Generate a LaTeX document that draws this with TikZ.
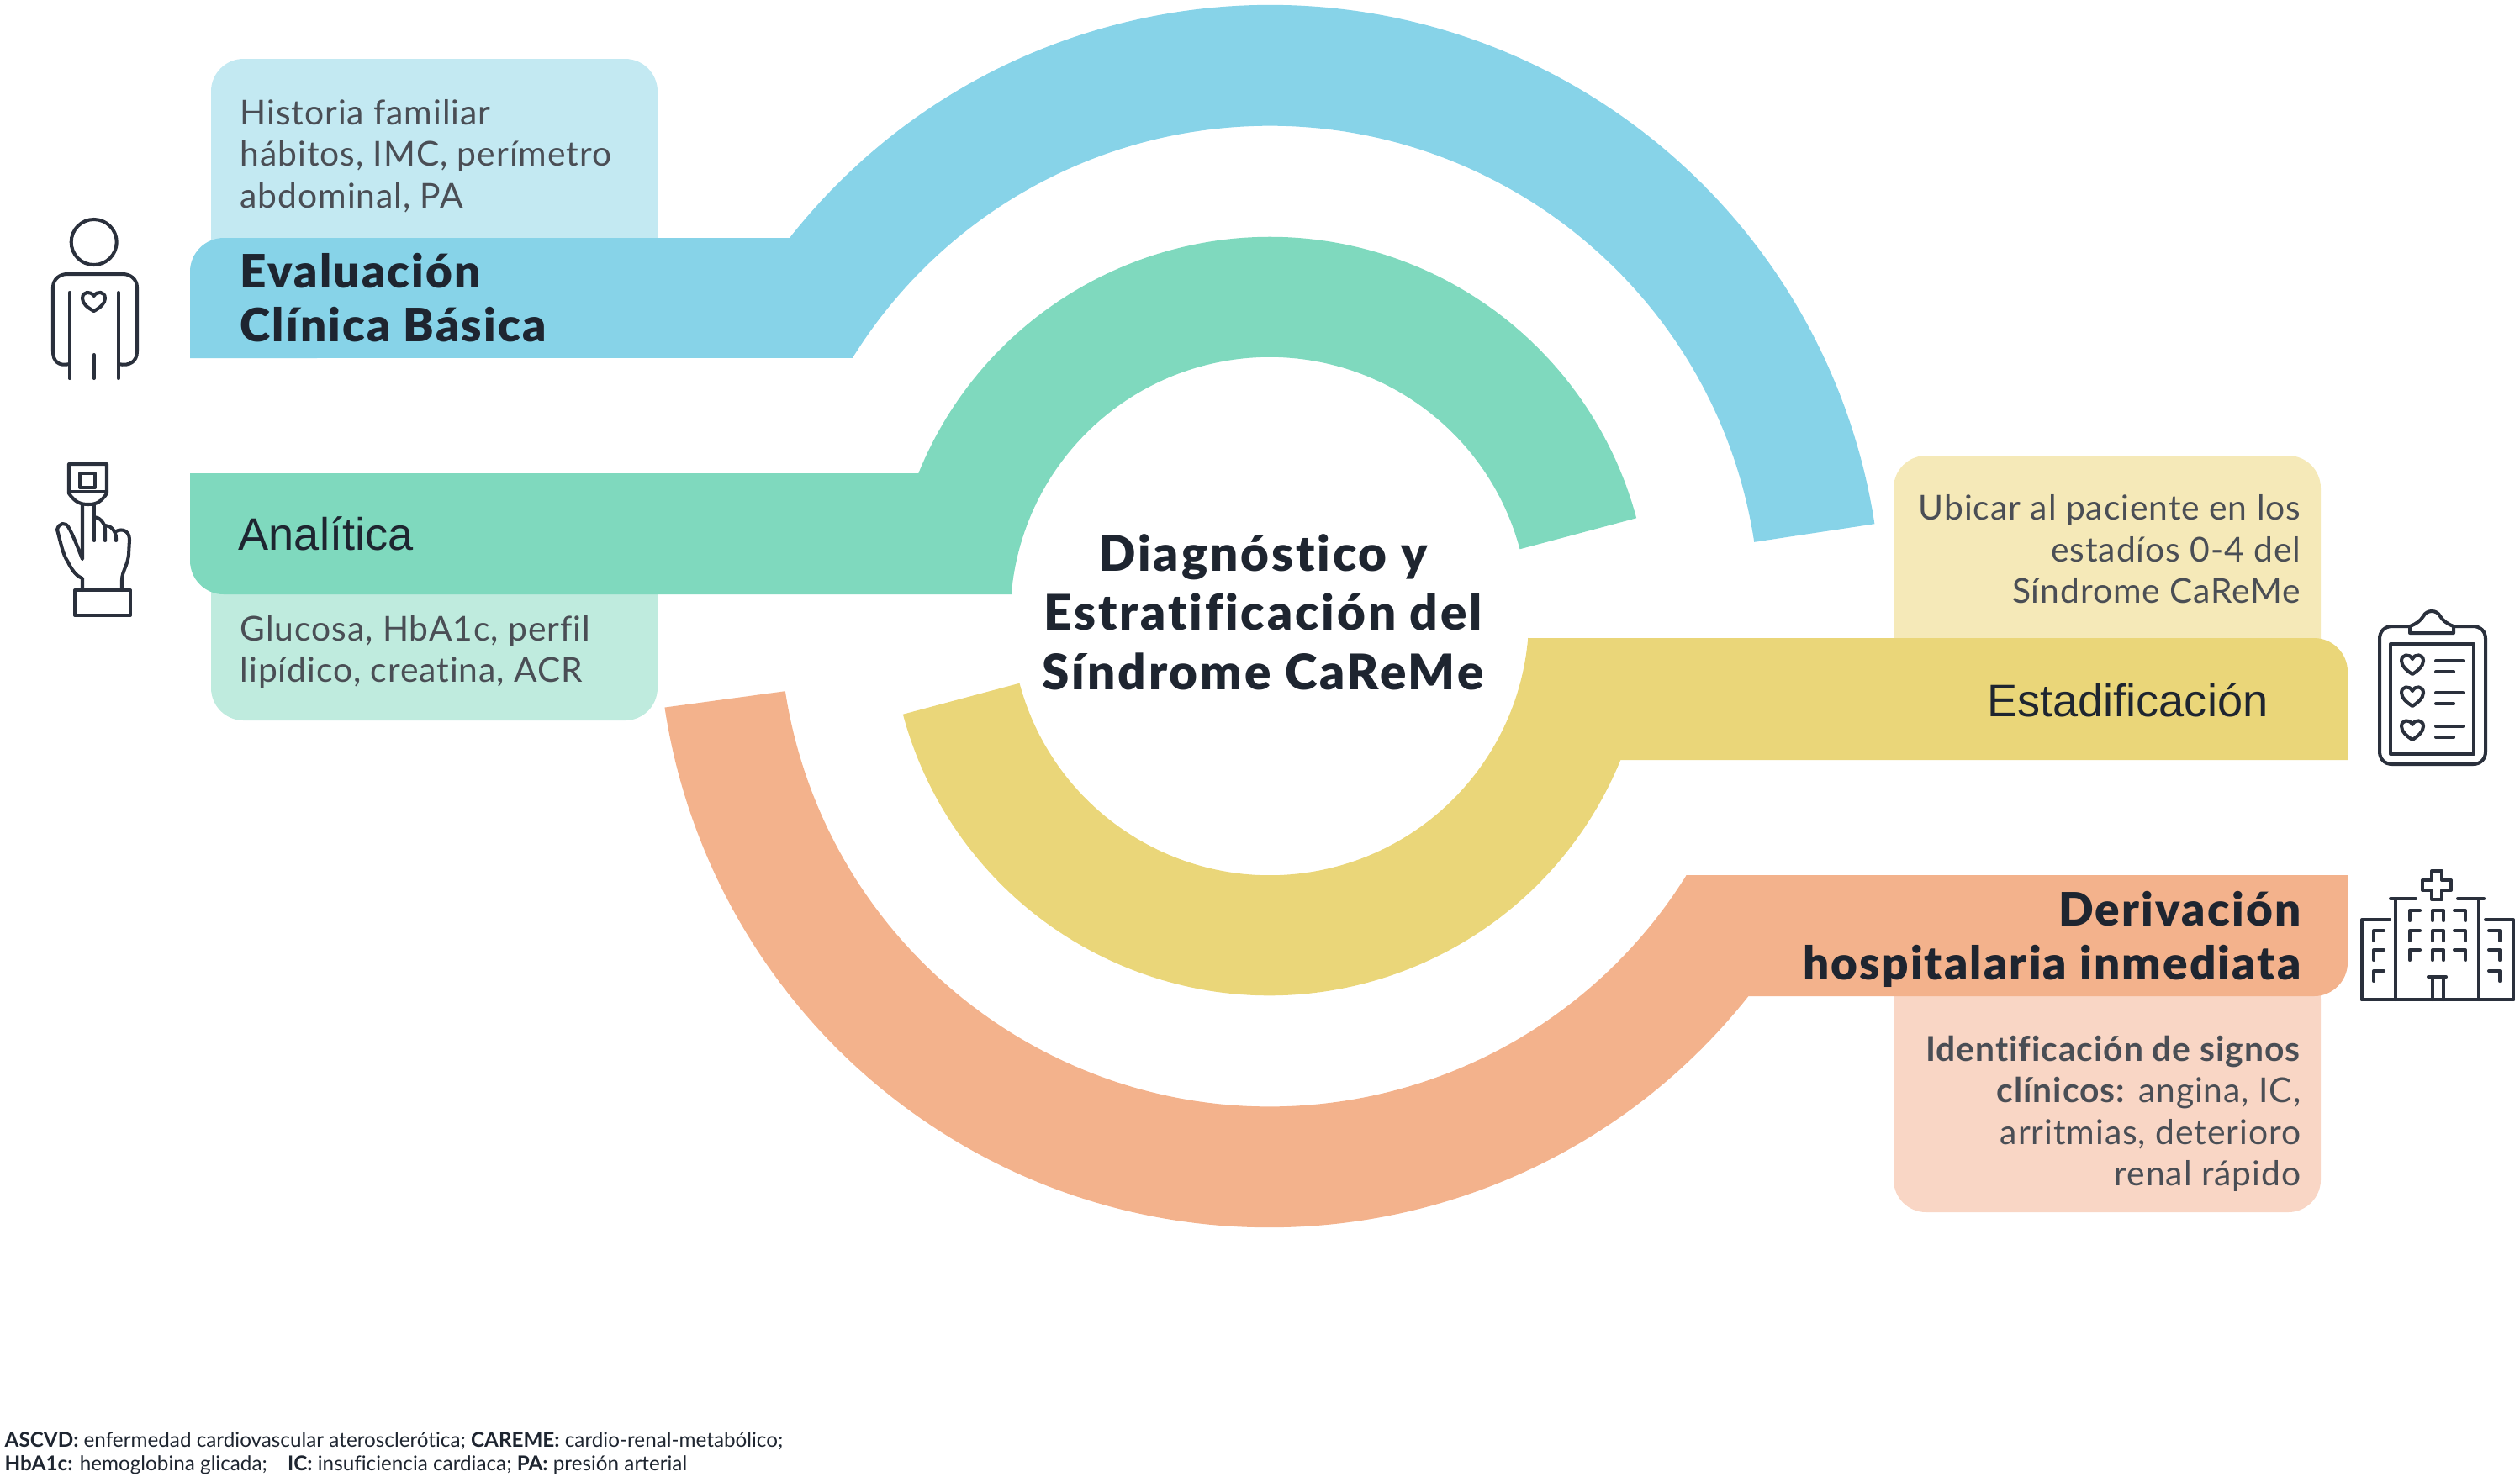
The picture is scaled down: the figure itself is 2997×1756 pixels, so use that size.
\documentclass[tikz,border=0pt]{standalone}
\usepackage{fontspec}
\setmainfont{Lato}[LetterSpace=2.3,Ligatures=NoCommon]
\newfontfamily\arialf{Liberation Sans}
\newfontfamily\headf{Lato Black}[LetterSpace=4,Ligatures=NoCommon]
\newfontfamily\titlef{Lato Black}[LetterSpace=5,Ligatures=NoCommon]
\newfontfamily\footf{Lato}[Ligatures=NoCommon]
\definecolor{cblue}{HTML}{87D3E8}
\definecolor{cgreen}{HTML}{7FD9BE}
\definecolor{cyellow}{HTML}{EAD679}
\definecolor{corange}{HTML}{F3B28C}
\definecolor{lblue}{HTML}{C3E9F2}
\definecolor{lgreen}{HTML}{BFEBDE}
\definecolor{lyellow}{HTML}{F5E9B8}
\definecolor{lorange}{HTML}{F9D6C5}
\definecolor{inkd}{HTML}{1E2530}
\definecolor{inkm}{HTML}{4A4E55}
\definecolor{iconc}{HTML}{2A303C}
\tikzset{
 detail/.style={inner sep=0pt,text=inkm,font=\fontsize{11.6}{13.94}\selectfont},
 head/.style={inner sep=0pt,text=inkd,font=\headf\fontsize{15.6}{18.2}\selectfont},
 plainhead/.style={inner sep=0pt,text=inkd,font=\arialf\fontsize{15.4}{18}\selectfont},
 title/.style={inner sep=0pt,text=inkd,font=\titlef\fontsize{16.6}{20}\selectfont},
 foot/.style={inner sep=0pt,text=inkd,font=\footf\fontsize{6.9}{7.7}\selectfont},
 icon/.style={draw=iconc,line width=1.15pt,line cap=round,line join=round,fill=none}
}
\begin{document}
\begin{tikzpicture}[x=0.01cm,y=0.01cm,yscale=-1]
\useasboundingbox (0,0) rectangle (2997,1756);
% ring angles derived from the straight band edges
\pgfmathsetmacro{\bo}{180+asin(450/727)}
\pgfmathsetmacro{\bi}{180+asin(307/583)}
\pgfmathsetmacro{\go}{180+asin(170/451)}
\pgfmathsetmacro{\gi}{180+asin(26/308)}
\pgfmathsetmacro{\yo}{asin(171/451)}
\pgfmathsetmacro{\yi}{asin(-(-26)/308)}
\pgfmathsetmacro{\oo}{asin(452/727)}
\pgfmathsetmacro{\oi}{asin(308/583)}
% light boxes
\fill[lblue,rounded corners=11pt] (251,70) rectangle (782,340);
\fill[lgreen,rounded corners=11pt] (251,650) rectangle (782,857);
\fill[lyellow,rounded corners=11pt] (2252,542) rectangle (2760,800);
\fill[lorange,rounded corners=11pt] (2252,1150) rectangle (2760,1442);
% bands and rings
\fill[cblue] (226,426) -- (226,323) .. controls (226,301) and (244,283) .. (266,283)
  -- ({1510+727*cos(\bo)},283)
  arc[start angle=\bo,end angle=351.3,radius=7.27cm]
  -- ({1510+583*cos(351.3)},{733+583*sin(351.3)})
  arc[start angle=351.3,end angle=\bi,radius=5.83cm] -- cycle;
\fill[cgreen] (226,563) -- ({1510+451*cos(\go)},563)
  arc[start angle=\go,end angle=345,radius=4.51cm]
  -- ({1510+308*cos(345)},{733+308*sin(345)})
  arc[start angle=345,end angle=\gi,radius=3.08cm]
  -- (266,707) .. controls (244,707) and (226,689) .. (226,667) -- cycle;
\fill[cyellow] ({1510+308*cos(\yi)},759) -- (2752,759) .. controls (2774,759) and (2792,777) .. (2792,799) -- (2792,904) -- ({1510+451*cos(\yo)},904)
  arc[start angle=\yo,end angle=165,radius=4.51cm]
  -- ({1510+308*cos(165)},{733+308*sin(165)})
  arc[start angle=165,end angle=\yi,radius=3.08cm] -- cycle;
\fill[corange] ({1510+583*cos(\oi)},1041) -- (2792,1041) -- (2792,1145) .. controls (2792,1167) and (2774,1185) .. (2752,1185) -- ({1510+727*cos(\oo)},1185)
  arc[start angle=\oo,end angle=171.4,radius=7.27cm]
  -- ({1510+583*cos(171.2)},{733+583*sin(171.2)})
  arc[start angle=171.2,end angle=\oi,radius=5.83cm] -- cycle;
% texts
\node[detail,anchor=base west,align=left] (d1) at (285,247) {Historia familiar\\hábitos, IMC, perímetro\\abdominal, PA};
\node[head,anchor=base west,align=left] (h1) at (285,406) {Evaluación\\Clínica Básica};
\node[plainhead,anchor=base west] (h2) at (283,654) {Analítica};
\node[detail,anchor=base west,align=left] (d2) at (285,811) {Glucosa, HbA1c, perfil\\lipídico, creatina, ACR};
\node[detail,anchor=base east,align=right] (d3) at (2737,717) {Ubicar al paciente en los\\estadíos 0-4 del\\Síndrome CaReMe};
\node[plainhead,anchor=base east] (h3) at (2698,852) {Estadificación};
\node[head,anchor=base east,align=right] (h4) at (2737,1165) {Derivación\\hospitalaria inmediata};
\node[detail,anchor=base east,align=right] (d4) at (2737,1410) {\textbf{Identificación de signos}\\\textbf{clínicos:} angina, IC,\\arritmias, deterioro\\renal rápido};
\node[title,anchor=base,align=center] (t) at (1502,820) {Diagnóstico y\\Estratificación del\\Síndrome CaReMe};
\node[foot,anchor=base west,align=left] (f) at (5,1749) {\textbf{ASCVD:} enfermedad cardiovascular aterosclerótica; \textbf{CAREME:} cardio-renal-metabólico;\\\textbf{HbA1c:} hemoglobina glicada;\quad\textbf{IC:} insuficiencia cardiaca; \textbf{PA:} presión arterial};
% person icon
\draw[icon] (111.7,288) circle[radius=0.27cm];
\draw[icon] (82.7,433) .. controls (70,436) and (63,430) .. (63,418) -- (63,342) .. controls (63,332) and (71,326) .. (80,326) -- (146,326) .. controls (155,326) and (163,332) .. (163,342) -- (163,418) .. controls (163,430) and (154,436) .. (141,433);
\draw[icon] (82.7,348) -- (82.7,450);
\draw[icon] (141,348) -- (141,450);
\draw[icon] (111.7,422) -- (111.7,450);
\draw[icon] (111.7,370) .. controls (104,366) and (98,361) .. (98,355) .. controls (98,346) and (108,346) .. (111.7,352) .. controls (115,346) and (125,346) .. (125,355) .. controls (125,361) and (119,366) .. (111.7,370) -- cycle;
% finger icon
\draw[icon] (82,552) -- (127,552) -- (127,587) .. controls (120,597) and (115,600) .. (105,600) .. controls (95,600) and (89,597) .. (82,587) -- cycle;
\draw[icon] (95,563) rectangle (113,580);
\draw[icon] (82,585) -- (127,585);
\draw[icon] (98,600) -- (98,665) .. controls (92,650) and (87,637) .. (82,628) .. controls (78,620) and (70,622) .. (68,630) .. controls (72,645) and (75,660) .. (80,667) .. controls (85,677) and (90,685) .. (98,688) -- (98,702);
\draw[icon] (112,600) -- (112,643);
\draw[icon] (112,615) .. controls (118,615) and (125,622) .. (125,630) -- (125,643);
\draw[icon] (125,625) .. controls (132,625) and (138,632) .. (138,640) -- (138,643);
\draw[icon] (138,632) .. controls (146,628) and (154,632) .. (154,642) -- (153,660) .. controls (152,672) and (145,680) .. (145,690) -- (145,702);
\draw[icon] (89,702) rectangle (155,732);
% clipboard icon
\draw[icon] (2866,745) -- (2845,745) .. controls (2836,745) and (2830,751) .. (2830,760) -- (2830,894) .. controls (2830,903) and (2836,909) .. (2845,909) -- (2941,909) .. controls (2950,909) and (2956,903) .. (2956,894) -- (2956,760) .. controls (2956,751) and (2950,745) .. (2941,745) -- (2918,745);
\draw[icon] (2866,753) -- (2918,753) -- (2918,745) .. controls (2910,742) and (2905,738) .. (2902,733) .. controls (2898,725) and (2886,725) .. (2882,733) .. controls (2879,738) and (2874,742) .. (2866,745) -- cycle;
\draw[icon] (2843,766) rectangle (2942,897);
\foreach \hy in {790,828,868}{
 \draw[icon,shift={(2869,\hy)}] (0,12) .. controls (-6,8) and (-13,3) .. (-13,-4) .. controls (-13,-12) and (-3,-13) .. (0,-6) .. controls (3,-13) and (13,-12) .. (13,-4) .. controls (13,3) and (6,8) .. (0,12) -- cycle;
 \draw[icon] (2897,\hy-4) -- (2929,\hy-4);
 \draw[icon] (2897,\hy+9) -- (2918,\hy+9);
}
% hospital icon
\draw[icon] (2809,1189) -- (2989,1189);
\draw[icon] (2842,1094) -- (2809,1094) -- (2809,1189);
\draw[icon] (2956,1094) -- (2989,1094) -- (2989,1189);
\draw[icon] (2849,1069) -- (2849,1189);
\draw[icon] (2948,1069) -- (2948,1189);
\draw[icon] (2843,1069) -- (2873,1069);
\draw[icon] (2923,1069) -- (2954,1069);
\draw[icon] (2892,1036) -- (2904,1036) -- (2904,1047) -- (2915,1047) -- (2915,1059) -- (2904,1059) -- (2904,1070) -- (2892,1070) -- (2892,1059) -- (2881,1059) -- (2881,1047) -- (2892,1047) -- cycle;
\foreach \wy in {1083,1107,1130}{
 \draw[icon] (2866,\wy+12) -- (2866,\wy) -- (2878,\wy);
 \draw[icon] (2893,\wy+12) -- (2893,\wy) -- (2906,\wy) -- (2906,\wy+12);
 \draw[icon] (2919,\wy) -- (2932,\wy) -- (2932,\wy+12);
}
\foreach \wy in {1107,1130,1155}{
 \draw[icon] (2823,\wy+12) -- (2823,\wy) -- (2835,\wy);
 \draw[icon] (2960,\wy) -- (2973,\wy) -- (2973,\wy+12);
}
\draw[icon] (2888,1162) -- (2909,1162);
\draw[icon] (2893,1162) -- (2893,1189);
\draw[icon] (2906,1162) -- (2906,1189);
\end{tikzpicture}
\end{document}
